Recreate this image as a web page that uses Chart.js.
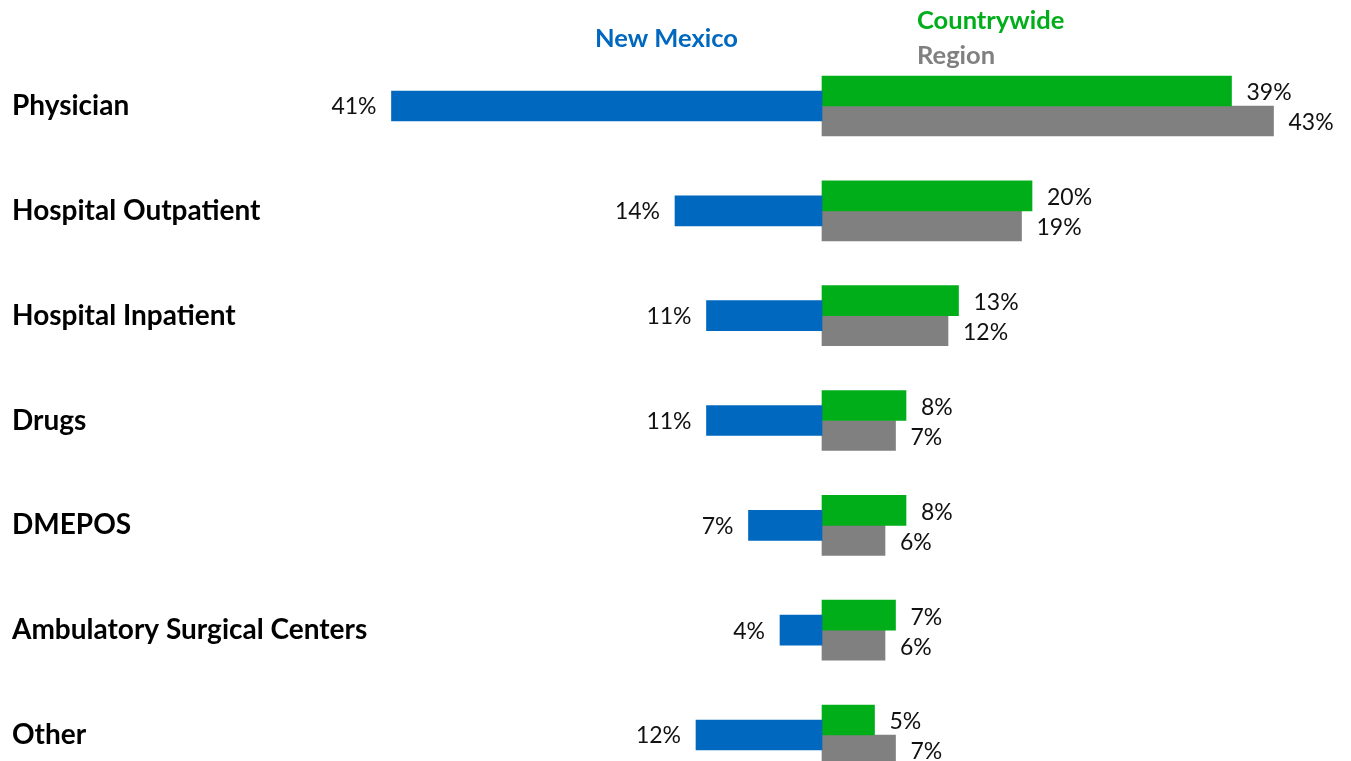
<!DOCTYPE html>
<html>
<head>
<meta charset="utf-8">
<title>Spending by service type</title>
<script src="https://cdn.jsdelivr.net/npm/chart.js@4/dist/chart.umd.min.js"></script>
<style>
  html, body { margin: 0; padding: 0; background: #fff; }
  #wrap { position: relative; width: 1351px; height: 761px; }
</style>
</head>
<body>
<div id="wrap"><canvas id="chart"></canvas></div>
<script>
// ---- Data (percent of spending) ----

const categories = [
    'Physician',
    'Hospital Outpatient',
    'Hospital Inpatient',
    'Drugs',
    'DMEPOS',
    'Ambulatory Surgical Centers',
    'Other',
];
const newMexico = [41, 14, 11, 11, 7, 4, 12];
const countrywide = [39, 20, 13, 8, 8, 7, 5];
const region = [43, 19, 12, 7, 6, 6, 7];

const BLUE = '#0068BE';
const GREEN = '#00AE1A';
const GREY = '#808080';

const FONT = 'Lato, "Open Sans", sans-serif';

// New Mexico is drawn to the left of the axis, so it goes in negative.
const nmPlotted = newMexico.map((v) => -v);

// Label column is 370px wide; the zero line sits at x=822 with 10.5px per point.
const LABEL_COL = 370;
const X_MIN = -(822 - 12 - LABEL_COL) / 10.5;

// ---- Plugins ----

// Percent labels beside each bar end.
const valueLabels = {
    id: 'valueLabels',
    afterDatasetsDraw(chart) {
        const ctx = chart.ctx;
        ctx.save();
        ctx.font = `23px ${FONT}`;
        ctx.fillStyle = '#111';
        ctx.textBaseline = 'middle';
        chart.data.datasets.forEach((ds, di) => {
            const meta = chart.getDatasetMeta(di);
            meta.data.forEach((bar, i) => {
                const v = Math.abs(ds.data[i]);
                const txt = `${v}%`;
                if (ds.data[i] < 0) {
                    ctx.textAlign = 'right';
                    ctx.fillText(txt, bar.x - 15, bar.y + 1);
                } else {
                    ctx.textAlign = 'left';
                    ctx.fillText(txt, bar.x + 15, bar.y + 2);
                }
            });
        });
        ctx.restore();
    },
};

// Series names sit above the bars rather than in a normal legend box.
const seriesNames = {
    id: 'seriesNames',
    afterDraw(chart) {
        const ctx = chart.ctx;
        const zero = chart.scales.x.getPixelForValue(0);
        ctx.save();
        ctx.font = `bold 25.5px ${FONT}`;
        ctx.textBaseline = 'middle';
        ctx.textAlign = 'right';
        ctx.fillStyle = BLUE;
        ctx.fillText('New Mexico', zero - 84, 39);
        ctx.textAlign = 'left';
        ctx.fillStyle = GREEN;
        ctx.fillText('Countrywide', zero + 95, 21);
        ctx.fillStyle = GREY;
        ctx.fillText('Region', zero + 95, 56);
        ctx.restore();
    },
};

// ---- Chart ----

new Chart(document.getElementById('chart'), {
    type: 'bar',
    data: {
        labels: categories,
        datasets: [
            {
                label: 'New Mexico',
                data: nmPlotted,
                backgroundColor: BLUE,
                barThickness: 30,
                grouped: false,
                clip: false,
            },
            {
                label: 'Countrywide',
                data: countrywide,
                backgroundColor: GREEN,
                barThickness: 30,
                clip: false,
            },
            {
                label: 'Region',
                data: region,
                backgroundColor: GREY,
                barThickness: 30,
                clip: false,
            },
        ],
    },
    options: {
        indexAxis: 'y',
        responsive: true,
        maintainAspectRatio: false,
        animation: false,
        layout: { padding: { left: 12, right: 4, top: 106, bottom: 26 } },
        plugins: {
            legend: { display: false },
            tooltip: { enabled: false },
        },
        scales: {
            x: {
                display: false,
                min: X_MIN,
                max: 50,
            },
            y: {
                offset: false,
                border: { display: false },
                grid: { display: false, drawTicks: false },
                ticks: {
                    crossAlign: 'far',
                    color: '#000',
                    font: { family: FONT, size: 28, weight: 'bold' },
                    padding: 0,
                },
                afterFit(scale) {
                    scale.width = LABEL_COL;
                },
            },
        },
    },
    plugins: [valueLabels, seriesNames],
});
</script>
</body>
</html>
